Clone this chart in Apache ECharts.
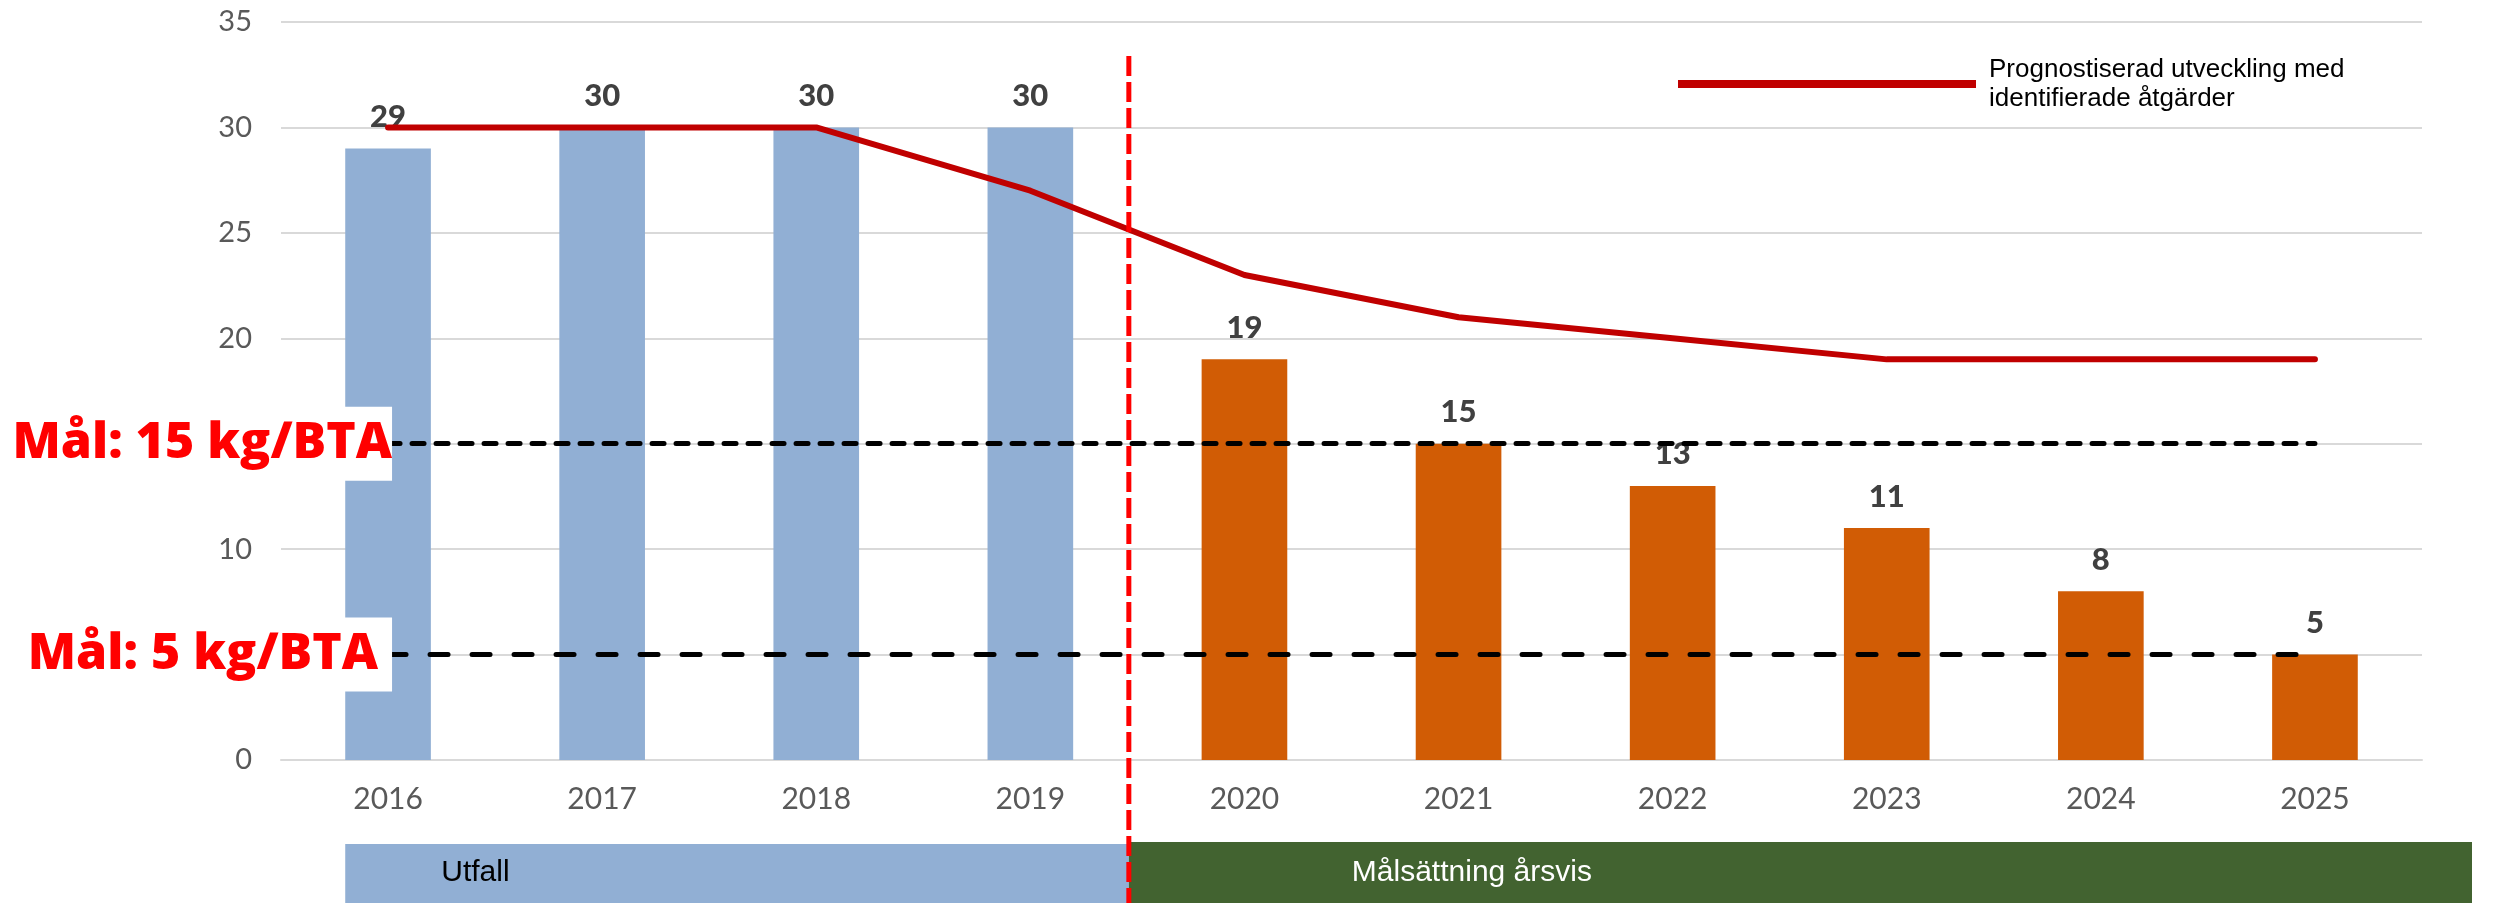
<!DOCTYPE html>
<html>
<head>
<meta charset="utf-8">
<script src="https://cdn.jsdelivr.net/npm/echarts@6/dist/echarts.min.js"></script>
<style>
  html, body { margin: 0; padding: 0; background: #fff; }
  #chart { width: 2503px; height: 903px; }
</style>
</head>
<body>
<div id="chart"></div>
<script>
// data
const years = ['2016', '2017', '2018', '2019', '2020', '2021', '2022', '2023', '2024', '2025'];
const outcome = [29, 30, 30, 30, '-', '-', '-', '-', '-', '-'];
const yearlyTarget = ['-', '-', '-', '-', 19, 15, 13, 11, 8, 5];
const forecast = [30, 30, 30, 27, 23, 21, 20, 19, 19, 19];
const goalHigh = 15;
const goalLow = 5;
const yMin = 0, yMax = 35, yStep = 5;
const splitIndex = 3.46; // where the red dashed divider sits, between 2019 and 2020

const axisFont = 'Lato, "Noto Sans", sans-serif';
const goalFont = '"Open Sans", Lato, sans-serif';
const plainFont = '"Liberation Sans", Arial, sans-serif';

const chart = echarts.init(document.getElementById('chart'));

const barLabel = {
  show: true,
  position: 'top',
  distance: 16,
  color: '#404040',
  fontFamily: axisFont,
  fontWeight: 900,
  fontSize: 31
};

const goalLabel = (text, pad) => ({
  show: true,
  position: 'start',
  distance: -4,
  formatter: text,
  color: '#FF0000',
  fontFamily: goalFont,
  fontWeight: 800,
  fontSize: 50,
  backgroundColor: '#ffffff',
  padding: pad
});

chart.setOption({
  animation: false,
  grid: { left: 281, right: 81, top: 22, bottom: 143 },
  legend: {
    left: 1673,
    top: 47,
    icon: 'rect',
    itemWidth: 298,
    itemHeight: 8,
    itemGap: 0,
    data: ['Prognostiserad utveckling med\nidentifierade åtgärder'],
    textStyle: {
      color: '#000',
      fontFamily: plainFont,
      fontSize: 26,
      lineHeight: 29,
      padding: [6, 0, 0, 8]
    }
  },
  xAxis: {
    type: 'category',
    data: years,
    axisLine: { show: true, lineStyle: { color: '#D9D9D9', width: 2 } },
    axisTick: { show: false },
    axisLabel: { color: '#595959', fontFamily: axisFont, fontSize: 30, margin: 24 }
  },
  yAxis: {
    type: 'value',
    min: yMin,
    max: yMax,
    interval: yStep,
    axisLine: { show: false },
    axisTick: { show: false },
    axisLabel: { color: '#595959', fontFamily: axisFont, fontSize: 29, margin: 29 },
    splitLine: { lineStyle: { color: '#D9D9D9', width: 2 } }
  },
  series: [
    {
      name: 'Utfall',
      type: 'bar',
      stack: 'bars',
      barWidth: '40%',
      data: outcome,
      itemStyle: { color: '#91AFD4' },
      label: barLabel
    },
    {
      name: 'Målsättning årsvis',
      type: 'bar',
      stack: 'bars',
      barWidth: '40%',
      data: yearlyTarget,
      itemStyle: { color: '#D15C05' },
      label: barLabel
    },
    {
      name: 'Prognostiserad utveckling med\nidentifierade åtgärder',
      type: 'line',
      data: forecast,
      symbol: 'none',
      z: 5,
      lineStyle: { color: '#C00000', width: 6, cap: 'round' },
      itemStyle: { color: '#C00000' },
      markLine: {
        silent: true,
        symbol: 'none',
        z: 6,
        data: [
          [
            {
              coord: [years[0], goalHigh],
              lineStyle: { color: '#000', width: 5, type: [12, 12], cap: 'round' },
              label: goalLabel('Mål: 15 kg/BTA', [12, 0, 12, 60])
            },
            { coord: [years[years.length - 1], goalHigh] }
          ],
          [
            {
              coord: [years[0], goalLow],
              lineStyle: { color: '#000', width: 5, type: [18, 24], cap: 'round' },
              label: goalLabel('Mål: 5 kg/BTA', [12, 14, 12, 80])
            },
            { coord: [years[years.length - 1], goalLow] }
          ]
        ]
      }
    }
  ]
});

// divider and period bands below the axis
const first = chart.convertToPixel({ xAxisIndex: 0 }, years[0]);
const step = chart.convertToPixel({ xAxisIndex: 0 }, years[1]) - first;
const splitX = first + splitIndex * step;
const bandLeft = first - 0.2 * step;
const bandRight = 2472;
const bandTop = 844;

chart.setOption({
  graphic: [
    {
      type: 'rect',
      shape: { x: bandLeft, y: bandTop, width: splitX - bandLeft, height: 903 - bandTop },
      style: { fill: '#91AFD4' },
      z: 10
    },
    {
      type: 'rect',
      shape: { x: splitX, y: bandTop - 2, width: bandRight - splitX, height: 903 - bandTop + 2 },
      style: { fill: '#426330' },
      z: 10
    },
    {
      type: 'text',
      x: bandLeft + 96,
      y: 873,
      style: {
        text: 'Utfall',
        fill: '#000',
        font: '30px "Liberation Sans", Arial, sans-serif',
        verticalAlign: 'middle'
      },
      z: 11
    },
    {
      type: 'text',
      x: splitX + 223,
      y: 873,
      style: {
        text: 'Målsättning årsvis',
        fill: '#fff',
        font: '30px "Liberation Sans", Arial, sans-serif',
        verticalAlign: 'middle'
      },
      z: 11
    },
    {
      type: 'line',
      shape: { x1: splitX, y1: 56, x2: splitX, y2: 903 },
      style: { stroke: '#FF0000', lineWidth: 5, lineDash: [20, 6] },
      z: 20
    }
  ]
});

window.addEventListener('resize', () => chart.resize());
</script>
</body>
</html>
